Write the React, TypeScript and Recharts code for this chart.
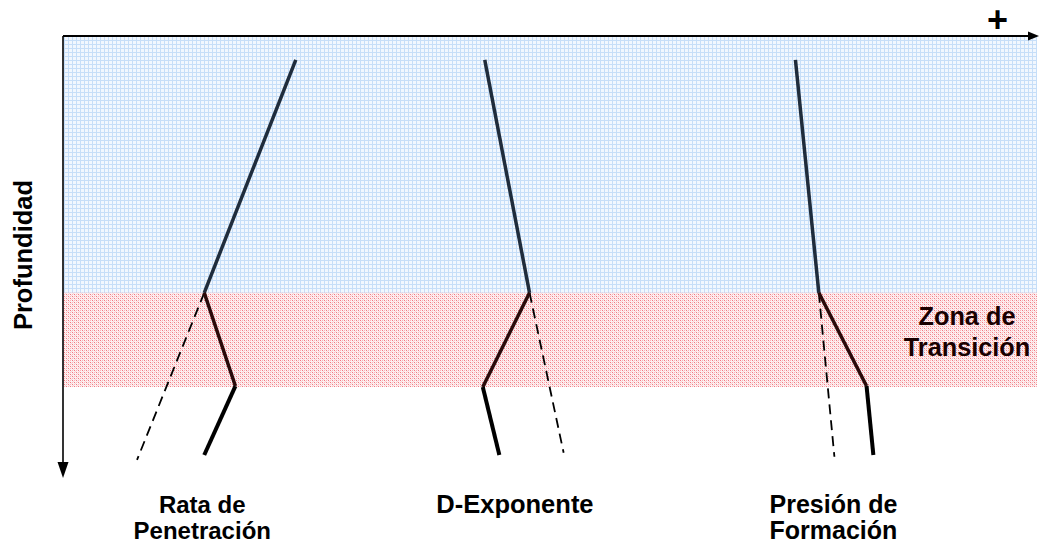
import React from "react";
import { ComposedChart, Line, XAxis, YAxis, ReferenceArea, ReferenceLine } from "recharts";

// ---- data (x: relative magnitude 0-100, d: depth 0-100 increasing downward) ----
const CATEGORY_LABELS: string[][] = [["Rata de", "Penetración"], ["D-Exponente"], ["Presión de", "Formación"]];
const CATEGORY_POS = [14.3, 46.4, 79.1];
const CATEGORY_FONT = [24, 25.5, 25];

const NORMAL_ZONE = [0, 58.1];
const TRANSITION_ZONE = [58.1, 79.4];
const ZONE_LABEL = ["Zona de", "Transición"];
const Y_TITLE = "Profundidad";
const X_SIGN = "+";

const ropX = [23.9, 14.5, 17.7, 14.5];
const ropDepth = [5.4, 58.1, 79.2, 94.8];
const ropTrendX = [14.5, 7.6];
const ropTrendDepth = [58.1, 95.9];

const dexpX = [43.3, 47.9, 43.1, 44.8];
const dexpDepth = [5.4, 58.1, 79.4, 94.8];
const dexpTrendX = [47.9, 51.4];
const dexpTrendDepth = [58.1, 94.3];

const presX = [75.2, 77.6, 82.5, 83.2];
const presDepth = [5.4, 58.1, 79.2, 94.8];
const presTrendX = [77.6, 79.2];
const presTrendDepth = [58.1, 95.2];

const toPts = (xs: number[], ds: number[]) => xs.map((x, i) => ({ x, d: ds[i] }));

const SOLID = [
  toPts(ropX, ropDepth),
  toPts(dexpX, dexpDepth),
  toPts(presX, presDepth),
];
const TRENDS = [
  toPts(ropTrendX, ropTrendDepth),
  toPts(dexpTrendX, dexpTrendDepth),
  toPts(presTrendX, presTrendDepth),
];

const SEG_COLORS = ["#1f2c3c", "#2a0a0a", "#000000"];
const SEG_WIDTHS = [3.5, 3.5, 4];
const FONT = "'Liberation Sans', Arial, sans-serif";

const XArrow = (p: any) => {
  const { x1, y1, x2, y2 } = p;
  return (
    <g>
      <line x1={x1} y1={y1} x2={x2 - 6} y2={y2} stroke="#000" strokeWidth={2} />
      <polygon points={`${x2 + 2},${y2} ${x2 - 9},${y2 - 4.5} ${x2 - 9},${y2 + 4.5}`} fill="#000" />
      <text x={x2 - 39.5} y={y2 - 4} fontFamily={FONT} fontWeight="bold" fontSize={36} textAnchor="middle" fill="#000">
        {X_SIGN}
      </text>
    </g>
  );
};

const YArrow = (p: any) => {
  const { x1, y1, x2, y2 } = p;
  const my = (y1 + y2) / 2;
  return (
    <g>
      <line x1={x1} y1={y1} x2={x2} y2={y2 - 12} stroke="#000" strokeWidth={1.6} />
      <polygon points={`${x2},${y2} ${x2 - 5.5},${y2 - 16} ${x2 + 5.5},${y2 - 16}`} fill="#000" />
      <text
        x={x1 - 31}
        y={my - 2}
        transform={`rotate(-90 ${x1 - 31} ${my - 2})`}
        fontFamily={FONT}
        fontWeight="bold"
        fontSize={25.5}
        textAnchor="middle"
        fill="#000"
      >
        {Y_TITLE}
      </text>
    </g>
  );
};

const ZoneLabel = (p: any) => {
  const vb = p.viewBox || {};
  const cx = vb.x + vb.width - 70;
  return (
    <text fontFamily={FONT} fontWeight="bold" fontSize={25.3} textAnchor="middle" fill="#1a0000">
      <tspan x={cx} y={vb.y + 32}>{ZONE_LABEL[0]}</tspan>
      <tspan x={cx} y={vb.y + 63}>{ZONE_LABEL[1]}</tspan>
    </text>
  );
};

const CategoryTick = (p: any) => {
  const { x, y, index } = p;
  const lines = CATEGORY_LABELS[index] || [];
  return (
    <text fontFamily={FONT} fontWeight="bold" fontSize={CATEGORY_FONT[index] || 24} textAnchor="middle" fill="#000">
      {lines.map((l, i) => (
        <tspan key={i} x={x} y={y + 35 + i * 26}>{l}</tspan>
      ))}
    </text>
  );
};

export default function App() {
  return (
    <div style={{ position: "absolute", left: 0, top: 0, width: 1039, height: 544, background: "#fff" }}>
      <ComposedChart width={1039} height={544} margin={{ top: 36, right: 2, bottom: 0, left: 63 }}>
        <defs>
          <pattern id="bluePat" width="4" height="4" patternUnits="userSpaceOnUse">
            <rect width="4" height="4" fill="#f1f7fe" />
            <rect width="4" height="1" fill="#c6def8" />
            <rect width="1" height="4" fill="#c6def8" />
          </pattern>
          <pattern id="redPat" width="4" height="4" patternUnits="userSpaceOnUse">
            <rect width="4" height="4" fill="#fdf0f1" />
            <rect x="0" y="0" width="1" height="1" fill="#f27a82" />
            <rect x="2" y="0" width="1" height="1" fill="#f8b4b8" />
            <rect x="0" y="2" width="1" height="1" fill="#f8b4b8" />
            <rect x="2" y="2" width="1" height="1" fill="#f27a82" />
            <rect x="1" y="1" width="1" height="1" fill="#fbd3d5" />
            <rect x="3" y="3" width="1" height="1" fill="#fbd3d5" />
          </pattern>
        </defs>
        <XAxis
          type="number"
          dataKey="x"
          domain={[0, 100]}
          ticks={CATEGORY_POS}
          height={66}
          axisLine={false}
          tickLine={false}
          tickSize={0}
          tickMargin={0}
          tick={<CategoryTick />}
          interval={0}
          allowDataOverflow
        />
        <YAxis type="number" dataKey="d" domain={[0, 100]} reversed hide allowDataOverflow />
        <ReferenceArea
          x1={0}
          x2={100}
          y1={NORMAL_ZONE[0]}
          y2={NORMAL_ZONE[1]}
          fill="url(#bluePat)"
          fillOpacity={1}
          stroke="none"
          ifOverflow="visible"
        />
        <ReferenceArea
          x1={0}
          x2={100}
          y1={TRANSITION_ZONE[0]}
          y2={TRANSITION_ZONE[1]}
          fill="url(#redPat)"
          fillOpacity={1}
          stroke="none"
          ifOverflow="visible"
          label={<ZoneLabel />}
        />
        {TRENDS.map((pts, i) => (
          <Line
            key={`t${i}`}
            data={pts}
            dataKey="d"
            stroke="#000"
            strokeWidth={1.8}
            strokeDasharray="10 6"
            dot={false}
            activeDot={false}
            isAnimationActive={false}
          />
        ))}
        {SOLID.flatMap((pts, i) =>
          [0, 1, 2].map((s) => (
            <Line
              key={`s${i}-${s}`}
              data={pts.slice(s, s + 2)}
              dataKey="d"
              stroke={SEG_COLORS[s]}
              strokeWidth={SEG_WIDTHS[s]}
              strokeLinecap="butt"
              dot={false}
              activeDot={false}
              isAnimationActive={false}
            />
          ))
        )}
        <ReferenceLine
          segment={[{ x: 0, y: 0 }, { x: 100, y: 0 }]}
          ifOverflow="visible"
          shape={<XArrow />}
        />
        <ReferenceLine
          segment={[{ x: 0, y: 0 }, { x: 0, y: 100 }]}
          ifOverflow="visible"
          shape={<YArrow />}
        />
      </ComposedChart>
    </div>
  );
}
